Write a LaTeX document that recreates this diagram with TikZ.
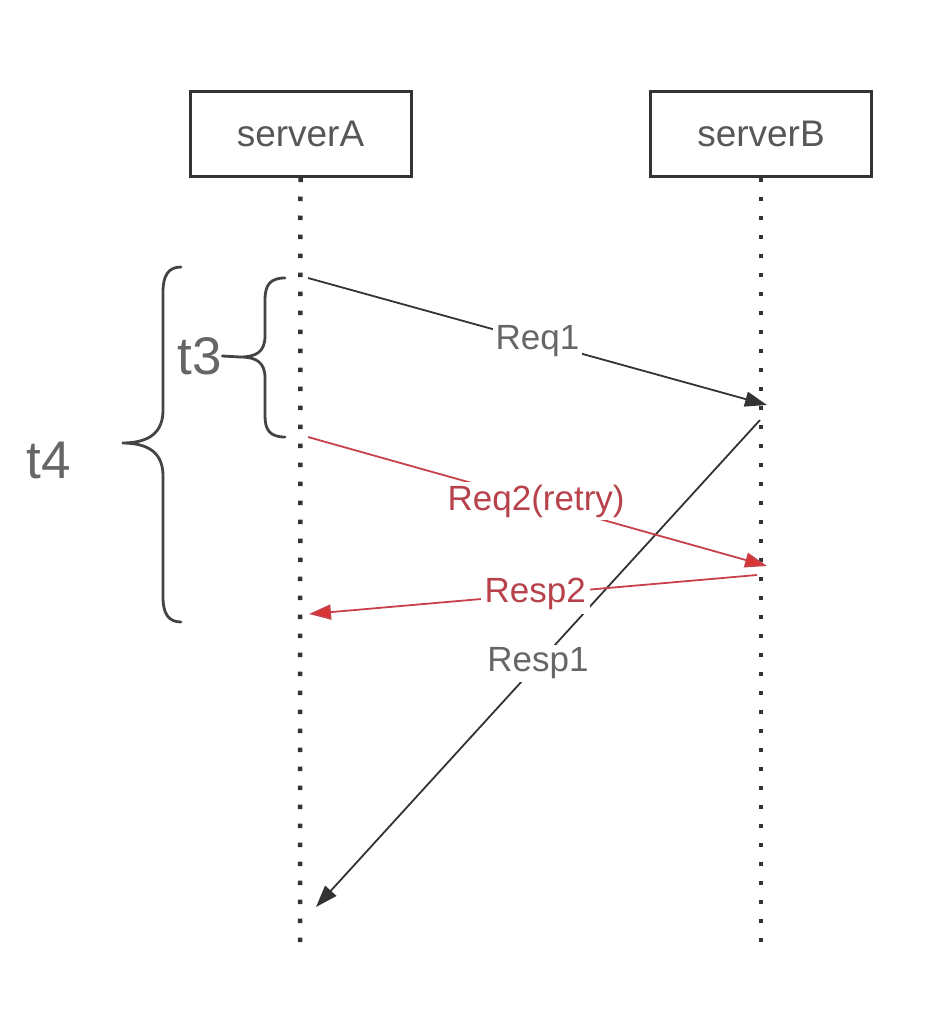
\documentclass[tikz,border=0pt]{standalone}
\usepackage{fontspec}
\setmainfont{Liberation Sans}
\usetikzlibrary{arrows.meta}
\definecolor{lineg}{HTML}{333333}
\definecolor{textg}{HTML}{666666}
\definecolor{redl}{HTML}{C8404A}
\definecolor{redt}{HTML}{B8424C}
\definecolor{redh}{HTML}{D93232}
\definecolor{braceg}{HTML}{444444}
\tikzset{
  serverbox/.style={draw=lineg, line width=3pt, minimum width=221pt, minimum height=84pt, inner sep=0pt, font=\fontsize{37}{40}\selectfont, text=textg!85!black},
  lifeline/.style={lineg, line width=4.5pt, dash pattern=on 4.5pt off 14.5pt},
  msg/.style={lineg, line width=1.8pt, -{Triangle[length=22pt,width=15pt]}},
  redmsg/.style={redl, line width=1.8pt, -{Triangle[length=22pt,width=15pt,fill=redh]}},
  msglabel/.style={fill=white, inner sep=3pt, text=textg, font=\fontsize{35}{37}\selectfont},
  redlabel/.style={fill=white, inner sep=3pt, text=redt, font=\fontsize{35}{37}\selectfont},
  bracepath/.style={braceg, line width=2.8pt, line cap=round},
  bracelabel/.style={text=textg, font=\fontsize{53}{55}\selectfont, inner sep=0pt}
}
\begin{document}
\begin{tikzpicture}[x=1pt,y=-1pt]
\useasboundingbox (0,0) rectangle (924,1014);
% servers
\node[serverbox] (A) at (300.5,134) {serverA};
\node[serverbox] (B) at (761,134) {serverB};
% lifeline ends
\coordinate (Aend) at (300,945);
\coordinate (Bend) at (761,945);
\draw[lifeline] (A.south) -- (Aend);
\draw[lifeline] (B.south) -- (Bend);
% message points
\coordinate (r1s) at (308,278);
\coordinate (r1e) at (767,405);
\coordinate (p1s) at (760,420);
\coordinate (p1e) at (316,907);
\coordinate (r2s) at (308,437);
\coordinate (r2e) at (767,566);
\coordinate (p2s) at (757,575);
\coordinate (p2e) at (309,614);
% Resp1 (drawn first, so Resp2 label covers it)
\draw[msg] (p1s) -- node[msglabel, pos=0.5] (resp1) {Resp1} (p1e);
% Req1
\draw[msg] (r1s) -- node[msglabel, pos=0.5] (req1) {Req1} (r1e);
% Req2
\draw[redmsg] (r2s) -- node[redlabel, pos=0.497] (req2) {Req2(retry)} (r2e);
% Resp2
\draw[redmsg] (p2s) -- node[redlabel, pos=0.495, inner sep=4pt] (resp2) {Resp2} (p2e);
% brace t3
\draw[bracepath] (285,278) .. controls (270,278) and (265,285) .. (265,300)
  -- (265,336) .. controls (265,352) and (256,357) .. (240,357)
  .. controls (256,357) and (265,362) .. (265,378)
  -- (265,416) .. controls (265,430) and (270,437) .. (285,437);
\coordinate (t3tip) at (240,357);
\node[bracelabel] (t3) at (200,356) {t3};
\draw[bracepath] (t3tip) -- (t3.east);
% brace t4
\draw[bracepath] (181,267) .. controls (168,267) and (163,276) .. (163,292)
  -- (163,410) .. controls (163,432) and (150,443) .. (122,443)
  .. controls (150,443) and (163,454) .. (163,476)
  -- (163,597) .. controls (163,613) and (168,622) .. (181,622);
\node[bracelabel] (t4) at (49,460) {t4};
\end{tikzpicture}
\end{document}
